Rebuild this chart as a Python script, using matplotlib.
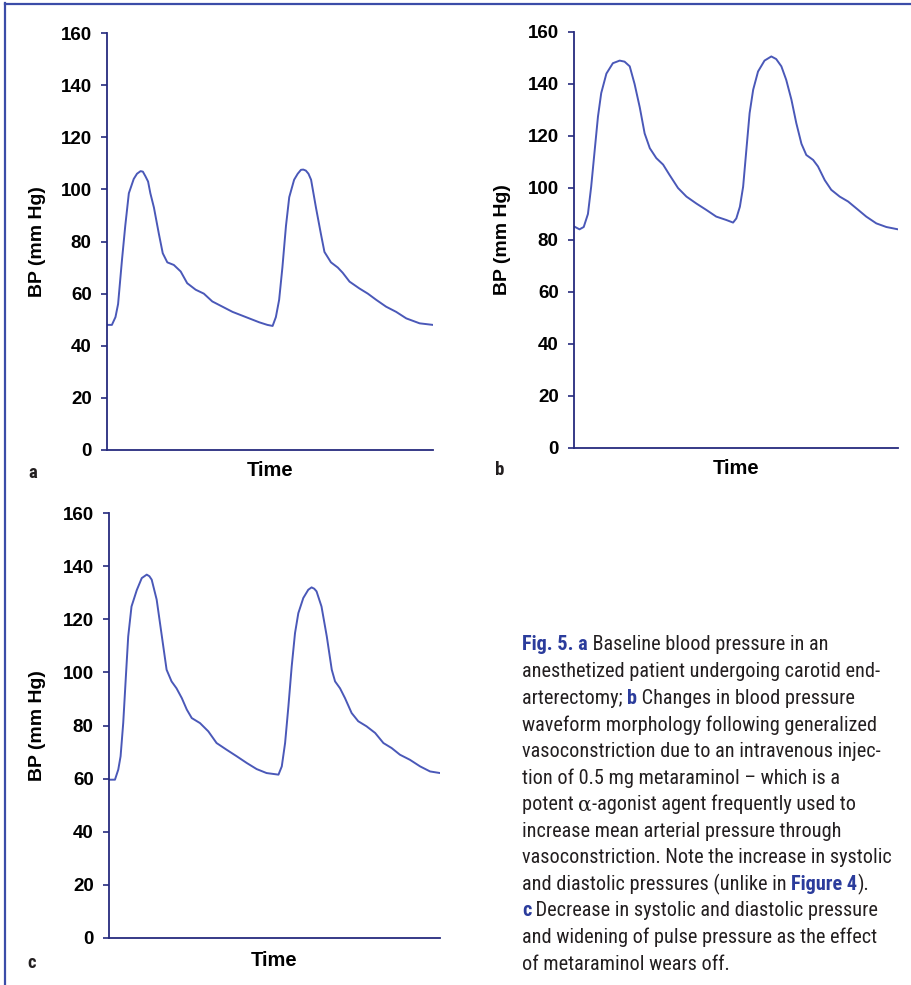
import matplotlib
matplotlib.use("Agg")
import matplotlib.pyplot as plt
from matplotlib import font_manager
from matplotlib.lines import Line2D

# ---------------- data ----------------
yticks = [0, 20, 40, 60, 80, 100, 120, 140, 160]
ylabel = "BP (mm Hg)"
xlabel = "Time"
panel_letters = ["a", "b", "c"]

t_a = [0.003, 0.015, 0.026, 0.034, 0.046, 0.056, 0.067, 0.082, 0.092, 0.103, 0.110, 0.118,
       0.126, 0.133, 0.144, 0.159, 0.171, 0.185, 0.205, 0.226, 0.246, 0.272, 0.297,
       0.323, 0.354, 0.385, 0.426, 0.467, 0.492, 0.508, 0.518, 0.528, 0.538,
       0.549, 0.559, 0.574, 0.585, 0.595, 0.602, 0.610, 0.618, 0.626, 0.641, 0.656, 0.667, 0.687,
       0.708, 0.723, 0.744, 0.774, 0.800, 0.826, 0.856, 0.887, 0.918, 0.959,
       1.0]
bp_a = [48, 48, 51, 56, 73, 86, 98.5, 104, 106, 107, 106.8, 105,
        103, 98.5, 93, 83, 75.5, 72, 71, 68.5, 64, 61.5, 60,
        57, 55, 53, 51, 49, 48, 47.6, 51, 57.6, 70,
        86, 97, 103.7, 106, 107.5, 107.6, 107.2, 106, 103.7, 93, 83, 76, 72,
        70, 68, 64.6, 62, 60, 57.6, 55, 53, 50.5, 48.6,
        48]

t_b = [0.002, 0.017, 0.030, 0.043, 0.053, 0.064, 0.074, 0.084, 0.100, 0.120,
       0.141, 0.156, 0.172, 0.187, 0.203, 0.218, 0.234, 0.254, 0.275, 0.295,
       0.321, 0.347, 0.378, 0.408, 0.439, 0.470, 0.491, 0.501, 0.512, 0.522,
       0.532, 0.542, 0.553, 0.568, 0.588, 0.609, 0.624, 0.640, 0.655, 0.671,
       0.686, 0.702, 0.717, 0.738, 0.753, 0.774, 0.794, 0.820, 0.846, 0.877,
       0.902, 0.933, 0.964, 1.0]
bp_b = [85.1, 84.1, 85, 90, 100.5, 114.7, 127.5, 136.5, 144, 148,
        149, 148.6, 146.8, 140, 131, 121, 115.3, 111.5, 109, 105,
        100, 96.7, 94, 91.6, 89, 87.7, 86.7, 88.3, 92.8, 100.5,
        114.7, 128.8, 137.8, 144.8, 149, 150.6, 149.6, 146.8, 141.6, 134,
        125, 117, 112.7, 110.8, 108.3, 103, 99.3, 96.7, 94.8, 91.6,
        89, 86.4, 85, 84.1]

t_c = [0.003, 0.018, 0.028, 0.035, 0.043, 0.051, 0.058, 0.068, 0.084, 0.099,
       0.114, 0.122, 0.129, 0.144, 0.154, 0.164, 0.174, 0.189, 0.204, 0.220, 0.235,
       0.250, 0.275, 0.300, 0.325, 0.355, 0.386, 0.416, 0.446, 0.476, 0.512,
       0.522, 0.532, 0.542, 0.552, 0.562, 0.572, 0.587, 0.602, 0.612, 0.620, 0.627,
       0.642, 0.658, 0.673, 0.683, 0.698, 0.713, 0.733, 0.753, 0.778, 0.804,
       0.829, 0.854, 0.879, 0.909, 0.940, 0.970, 1.0]
bp_c = [59.6, 59.6, 63.4, 68.4, 81, 98.5, 113.5, 124.8, 131, 135.5,
        136.8, 136.2, 134.9, 127.4, 118.6, 109.8, 101, 96.6, 94, 90.3, 86,
        82.8, 80.9, 77.8, 73.4, 70.9, 68.4, 65.9, 63.6, 62.1, 61.5,
        64.6, 73.4, 87.2, 102.3, 114.8, 122.3, 128, 131.1, 132, 131.5, 130.5,
        124.8, 113.5, 101, 96.6, 94, 90.3, 84.7, 81.6, 79.7, 77.2,
        73.4, 71.5, 69, 67.1, 64.6, 62.7, 62.1]

# caption: list of lines, each a list of (text, style)
caption_lines = [
    [("Fig. 5. a", "hl"), (" Baseline blood pressure in an", "n")],
    [("anesthetized patient undergoing carotid end-", "n")],
    [("arterectomy; ", "n"), ("b", "hl"), (" Changes in blood pressure", "n")],
    [("waveform morphology following generalized", "n")],
    [("vasoconstriction due to an intravenous injec-", "n")],
    [("tion of 0.5 mg metaraminol \u2013 which is a", "n")],
    [("potent ", "n"), ("\u03b1", "gr"), ("-agonist agent frequently used to", "n")],
    [("increase mean arterial pressure through", "n")],
    [("vasoconstriction. Note the increase in systolic", "n")],
    [("and diastolic pressures (unlike in ", "n"), ("Figure 4", "hl"), (").", "n")],
    [("c", "hl"), (" Decrease in systolic and diastolic pressure", "n")],
    [("and widening of pulse pressure as the effect", "n")],
    [("of metaraminol wears off.", "n")],
]

# ---------------- style ----------------
W, H = 912, 985
CURVE = "#4a58b8"
AXC = "#262b7e"
BORDER = "#3b4ca8"
HL = "#2b3c9c"
TXT = "#231f20"

names = {f.name for f in font_manager.fontManager.ttflist}
cap_font = "DejaVu Sans"
for cand in ["Liberation Sans Narrow", "Roboto Condensed", "Open Sans", "Lato"]:
    if cand in names:
        cap_font = cand
        break
bold_font = "Liberation Sans" if "Liberation Sans" in names else "DejaVu Sans"

fig = plt.figure(figsize=(W / 100, H / 100), dpi=100)
fig.patch.set_facecolor("white")


def px_axes(left, top, right, bottom):
    return fig.add_axes([left / W, 1 - bottom / H, (right - left) / W, (bottom - top) / H])


panels = [
    (t_a, bp_a, (107, 33, 433, 450), 37, 471, (33, 473)),
    (t_b, bp_b, (574, 32, 898, 448), 503, 468, (500, 470)),
    (t_c, bp_c, (109, 513, 440, 938), 37, 960, (32, 963)),
]

for (tt, vv, box, ylab_x, xlab_y, letter_pos), letter in zip(panels, panel_letters):
    l, t, r, b = box
    ax = px_axes(l, t, r, b)
    ax.plot(tt, vv, color=CURVE, lw=1.4, solid_joinstyle="round")
    ax.set_xlim(0, 1)
    ax.set_ylim(0, 160)
    ax.set_yticks(yticks)
    ax.set_xticks([])
    for s in ["top", "right"]:
        ax.spines[s].set_visible(False)
    for s in ["left", "bottom"]:
        ax.spines[s].set_color(AXC)
        ax.spines[s].set_linewidth(1.3)
    ax.tick_params(axis="y", direction="out", length=4, width=1.2, color=AXC,
                   pad=7, labelsize=13.5, labelcolor="black")
    for lab in ax.get_yticklabels():
        lab.set_fontweight("bold")
        lab.set_fontfamily(bold_font)
    ax.set_ylabel(ylabel, fontsize=14, fontweight="bold", family=bold_font)
    ax.yaxis.set_label_coords((ylab_x - l) / (r - l), 0.5)
    ax.yaxis.label.set_va("center")
    ax.set_xlabel(xlabel, fontsize=14.5, fontweight="bold", family=bold_font)
    ax.xaxis.set_label_coords(0.5, (b - xlab_y) / (b - t))
    ax.xaxis.label.set_va("center")
    ax.patch.set_alpha(0)
    fig.text(letter_pos[0] / W, 1 - letter_pos[1] / H, letter, fontsize=13.5,
             fontweight="bold", family=cap_font, color=TXT, ha="center", va="center")

# border lines
fig.add_artist(Line2D([5 / W, 1.0], [1 - 3.5 / H, 1 - 3.5 / H], transform=fig.transFigure,
                      color=BORDER, lw=1.6))
fig.add_artist(Line2D([5.5 / W, 5.5 / W], [0, 1 - 3 / H], transform=fig.transFigure,
                      color=BORDER, lw=1.6))

# ---------------- caption (ragged right) ----------------
renderer = fig.canvas.get_renderer()


def style_kw(st, fs):
    if st == "hl":
        return dict(color=HL, fontweight="bold", family=cap_font, fontsize=fs)
    if st == "gr":
        return dict(color=TXT, family="DejaVu Serif", fontsize=fs)
    return dict(color=TXT, family=cap_font, fontsize=fs)


def measure(txt, st, fs):
    tt = fig.text(0, 0, txt, **style_kw(st, fs))
    w = tt.get_window_extent(renderer).width
    tt.remove()
    return w


X0 = 522
FIT_LINE, FIT_RIGHT = 8, 888
Y0, DY = 643, 26.6

base = 10
w_fit = sum(measure(txt, st, base) for txt, st in caption_lines[FIT_LINE])
fs = base * (FIT_RIGHT - X0) / w_fit

for i, line in enumerate(caption_lines):
    x = X0
    y = Y0 + i * DY
    for txt, st in line:
        fig.text(x / W, 1 - y / H, txt, va="center_baseline", ha="left", **style_kw(st, fs))
        x += measure(txt, st, fs)

fig.savefig("out.png", dpi=100, facecolor="white")
